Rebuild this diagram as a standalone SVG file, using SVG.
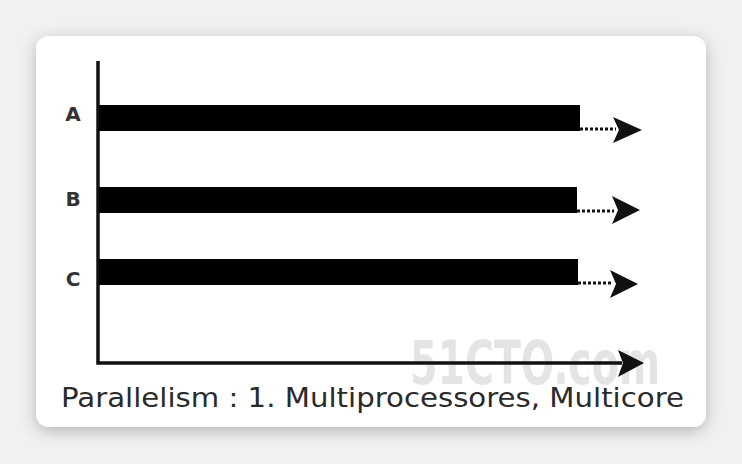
<svg xmlns="http://www.w3.org/2000/svg" width="742" height="464" viewBox="0 0 742 464">
<defs>
<style>
.lbl{font-family:"DejaVu Sans",sans-serif;font-size:20px;font-weight:bold;fill:#333;text-anchor:middle;dominant-baseline:central}
.cap{font-family:"DejaVu Sans",sans-serif;font-size:27px;fill:#2a2a2a}
.wm{font-family:"DejaVu Sans Condensed","DejaVu Sans",sans-serif;font-size:60px;font-weight:bold;fill:#888;opacity:0.22}
.bar{fill:#000}
.axis{stroke:#111;stroke-width:3.5;fill:none}
.dot{stroke:#111;stroke-width:3;stroke-dasharray:3 2;fill:none}
.head{fill:#111}
</style>
<filter id="sh" x="-10%" y="-10%" width="120%" height="125%">
<feDropShadow dx="0" dy="4" stdDeviation="8" flood-color="#000" flood-opacity="0.25"/>
</filter>
<clipPath id="cardclip"><rect x="36" y="36" width="670" height="391" rx="13"/></clipPath>
</defs>
<rect width="742" height="464" fill="#f1f1f1"/>
<rect id="card" x="36" y="36" width="670" height="391" rx="13" fill="#fff" filter="url(#sh)"/>
<g clip-path="url(#cardclip)">
<text class="wm" x="410" y="384" textLength="250" lengthAdjust="spacingAndGlyphs">51CTO.com</text>
<g id="axes">
<path class="axis" d="M98 61 V363 H622"/>
<path class="head" d="M644 363 L618 350 L623 363 L618 377 Z"/>
</g>
<g id="A">
<text class="lbl" x="73" y="114">A</text>
<rect class="bar" x="99" y="105" width="481" height="26"/>
</g>
<g id="B">
<text class="lbl" x="73" y="199">B</text>
<rect class="bar" x="99" y="187" width="478" height="26"/>
</g>
<g id="C">
<text class="lbl" x="73" y="279">C</text>
<rect class="bar" x="99" y="259" width="479" height="26"/>
</g>
<g id="connectors">
<path class="dot" d="M580 129 H616"/>
<path class="head" d="M642 130 L613 117 L619 130 L613 143 Z"/>
<path class="dot" d="M577 211 H614"/>
<path class="head" d="M640 210 L612 196 L618 210 L612 224 Z"/>
<path class="dot" d="M578 283 H612"/>
<path class="head" d="M638 284 L610 270 L616 284 L610 298 Z"/>
</g>
<text class="cap" x="61" y="407" textLength="623" lengthAdjust="spacingAndGlyphs">Parallelism : 1. Multiprocessores, Multicore</text>
</g>
</svg>
